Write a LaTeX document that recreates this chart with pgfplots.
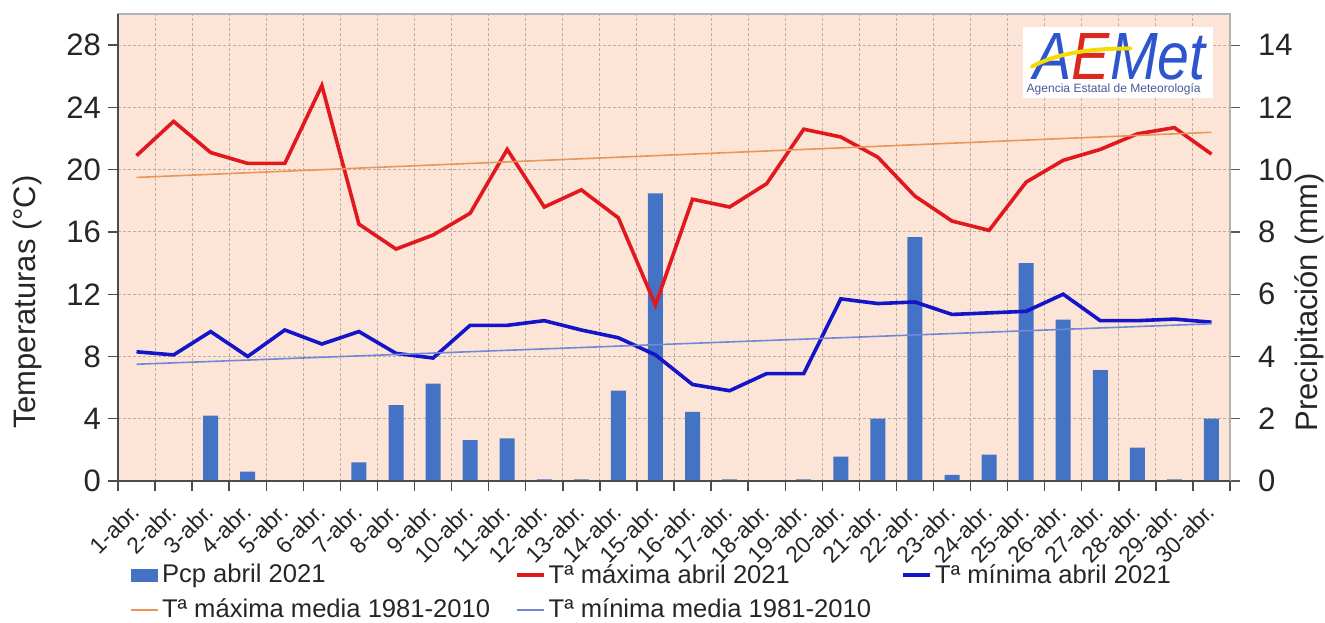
\documentclass[border=0pt]{standalone}
\usepackage{pgfplots}
\pgfplotsset{compat=1.18}
\usepackage{fontspec}
\setmainfont{Liberation Sans}
\usetikzlibrary{calc}
\definecolor{bgc}{RGB}{252,229,214}
\definecolor{gridc}{RGB}{185,175,168}
\definecolor{barc}{RGB}{68,114,196}
\definecolor{tmaxc}{RGB}{225,25,30}
\definecolor{tminc}{RGB}{20,20,200}
\definecolor{tmaxmc}{RGB}{232,150,90}
\definecolor{tminmc}{RGB}{115,135,215}
\definecolor{logob}{RGB}{45,85,205}
\definecolor{logor}{RGB}{220,40,30}
\definecolor{logoy}{RGB}{245,220,0}
\definecolor{logot}{RGB}{70,90,150}
\definecolor{txt}{RGB}{38,38,38}
\newcommand{\tickfont}{\fontsize{15.5bp}{18bp}\selectfont}
\begin{document}
\begin{tikzpicture}
% ---------- precipitation axis (right) ----------
\begin{axis}[
  name=pax,
  scale only axis, width=556bp, height=233.5bp,
  xmin=0.5, xmax=30.5, ymin=0, ymax=15,
  axis background/.style={fill=bgc},
  axis line style={draw=gray!60, line width=0.8bp},
  xtick={0.5,1.5,...,30.5}, xticklabels={},
  ytick={0,2,...,14},
  ytick pos=right, yticklabel pos=right,
  xtick style={draw=none},
  ytick style={draw=gray!70!black, line width=0.6bp},
  tick align=outside, major tick length=5bp,
  xmajorgrids, ymajorgrids,
  grid style={draw=gridc, line width=0.5bp, dash pattern=on 1.5bp off 1bp},
  yticklabel style={font=\tickfont, text=txt, xshift=5.5bp},
  /pgf/number format/assume math mode=true,
  ylabel={Precipitación (mm)},
  ylabel style={at={(axis description cs:1.071,0.383)}, anchor=center, font=\tickfont, text=txt},
]
\addplot[ybar, bar width=7.5bp, fill=barc, draw=none] coordinates {
(1,0) (2,0) (3,2.1) (4,0.3) (5,0) (6,0) (7,0.6) (8,2.44) (9,3.13) (10,1.31)
(11,1.37) (12,0.05) (13,0.05) (14,2.9) (15,9.24) (16,2.22) (17,0.05) (18,0) (19,0.05) (20,0.78)
(21,2.0) (22,7.83) (23,0.2) (24,0.85) (25,7.0) (26,5.18) (27,3.56) (28,1.07) (29,0.05) (30,2.0)
};
\end{axis}
% ---------- temperature axis (left) ----------
\begin{axis}[
  scale only axis, width=556bp, height=233.5bp,
  xmin=0.5, xmax=30.5, ymin=0, ymax=30,
  axis x line*=bottom, axis y line*=left,
  axis line style={-, draw=black!70, line width=1bp},
  xtick={0.5,1.5,...,30.5}, x tick label as interval,
  xticklabels={1-abr.,2-abr.,3-abr.,4-abr.,5-abr.,6-abr.,7-abr.,8-abr.,9-abr.,10-abr.,11-abr.,12-abr.,13-abr.,14-abr.,15-abr.,16-abr.,17-abr.,18-abr.,19-abr.,20-abr.,21-abr.,22-abr.,23-abr.,24-abr.,25-abr.,26-abr.,27-abr.,28-abr.,29-abr.,30-abr.},
  xticklabel style={font=\fontsize{11.5bp}{13bp}\selectfont, text=txt, xshift=2bp, yshift=-6bp, rotate=45, anchor=east},
  ytick={0,4,...,28},
  tick align=outside, major tick length=5bp,
  tick style={draw=black!70, line width=0.7bp},
  yticklabel style={font=\tickfont, text=txt},
  /pgf/number format/assume math mode=true,
  ylabel={Temperaturas (°C)},
  ylabel style={at={(axis description cs:-0.0818,0.383)}, anchor=center, font=\tickfont, text=txt},
  legend image code/.code={\draw[#1] (0bp,0bp) -- (13.5bp,0bp);},
  legend columns=3,
  legend cell align=left,
  legend style={at={(axis description cs:0.0108,-0.171)}, anchor=north west,
    draw=none, fill=none, inner sep=0pt, column sep=0pt, row sep=3.5bp,
    font=\fontsize{12.8bp}{15bp}\selectfont, text=txt,
    nodes={inner sep=1.5bp}},
]
\addlegendimage{legend image code/.code={\fill[barc] (0bp,-3bp) rectangle (13bp,3bp);}}
\addlegendentry{\makebox[175bp][l]{Pcp abril 2021}}
\addplot[tmaxc, line width=1.8bp] coordinates {
(1,20.9) (2,23.1) (3,21.1) (4,20.4) (5,20.4) (6,25.4) (7,16.5) (8,14.9) (9,15.8) (10,17.2)
(11,21.3) (12,17.6) (13,18.7) (14,16.9) (15,11.3) (16,18.1) (17,17.6) (18,19.1) (19,22.6) (20,22.1)
(21,20.8) (22,18.3) (23,16.7) (24,16.1) (25,19.2) (26,20.6) (27,21.3) (28,22.3) (29,22.7) (30,21.0)
};
\addlegendentry{\makebox[175bp][l]{Tª máxima abril 2021}}
\addplot[tminc, line width=1.8bp] coordinates {
(1,8.3) (2,8.1) (3,9.6) (4,8.0) (5,9.7) (6,8.8) (7,9.6) (8,8.2) (9,7.9) (10,10.0)
(11,10.0) (12,10.3) (13,9.7) (14,9.2) (15,8.1) (16,6.2) (17,5.8) (18,6.9) (19,6.9) (20,11.7)
(21,11.4) (22,11.5) (23,10.7) (24,10.8) (25,10.9) (26,12.0) (27,10.3) (28,10.3) (29,10.4) (30,10.2)
};
\addlegendentry{\makebox[175bp][l]{Tª mínima abril 2021}}
\addplot[tmaxmc, line width=0.8bp] coordinates {(1,19.5) (30,22.4)};
\addlegendentry{\makebox[175bp][l]{Tª máxima media 1981-2010}}
\addplot[tminmc, line width=0.8bp] coordinates {(1,7.5) (30,10.1)};
\addlegendentry{\makebox[175bp][l]{Tª mínima media 1981-2010}}
% logo
\node[fill=white, minimum width=95bp, minimum height=35.5bp, inner sep=0pt] (logo) at (axis description cs:0.899,0.896) {};
\node[anchor=south, inner sep=0pt] at ($(logo.south)+(1bp,9bp)$) {\resizebox{86bp}{23bp}{\itshape\textcolor{logob}{A}\textcolor{logor}{E}\textcolor{logob}{Met}}};
\draw[logoy, line width=2bp, line cap=round] ($(logo.south west)+(5bp,16bp)$) .. controls ($(logo.south west)+(20bp,24bp)$) and ($(logo.south west)+(40bp,25bp)$) .. ($(logo.south west)+(54bp,25bp)$);
\node[anchor=south, inner sep=0pt, text=logot] at ($(logo.south)+(-2bp,1.5bp)$) {\resizebox{87bp}{!}{Agencia Estatal de Meteorología}};
\end{axis}
\pgfresetboundingbox
\useasboundingbox ($(pax.south west)+(-59bp,-71bp)$) rectangle ($(pax.north east)+(47.5bp,7bp)$);
\end{tikzpicture}
\end{document}
